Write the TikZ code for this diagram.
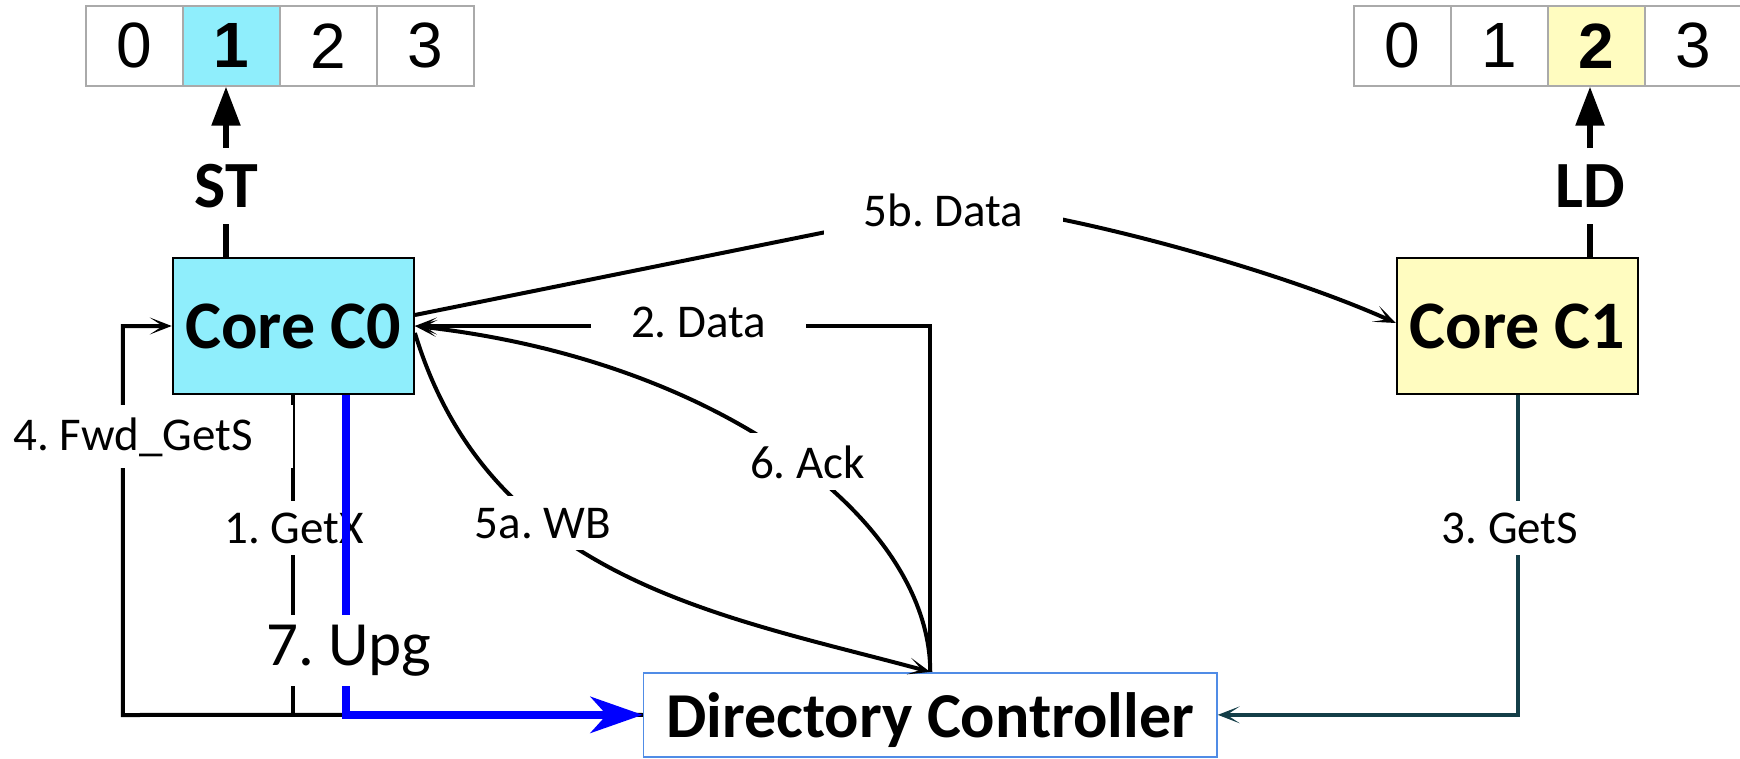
\documentclass[tikz,border=0pt]{standalone}
\usepackage{fontspec}
\setmainfont{Carlito}
\newfontfamily\arialf{Liberation Sans}
\usetikzlibrary{arrows.meta,calc}
\definecolor{cyanc}{RGB}{143,238,252}
\definecolor{yelc}{RGB}{255,252,192}
\definecolor{gridc}{RGB}{170,170,170}
\definecolor{dirblue}{RGB}{80,140,230}
\definecolor{tealc}{RGB}{20,62,72}
\definecolor{upgblue}{RGB}{0,0,255}
\frenchspacing
\begin{document}
\begin{tikzpicture}[x=0.5pt,y=-0.5pt,
  cell/.style={draw=gridc,line width=1pt,minimum width=48.5pt,minimum height=40pt,inner sep=0pt,font=\arialf\fontsize{32}{32}\selectfont},
  core/.style={draw=black,line width=1.1pt,minimum width=120.5pt,minimum height=68pt,inner sep=0pt,font=\bfseries\fontsize{34}{34}\selectfont},
  oplbl/.style={inner xsep=0pt,inner ysep=8pt,font=\bfseries\fontsize{33}{33}\selectfont},
  lbl/.style={fill=white,inner xsep=20pt,inner ysep=6pt,font=\fontsize{23.5}{23.5}\selectfont,anchor=base},
  conn/.style={line width=2pt,-{Stealth[length=11pt,width=8.5pt,inset=6.5pt]}},
  plain/.style={line width=2pt},
  opline/.style={line width=2.75pt},
  oparrow/.style={line width=2.75pt,-{Triangle[length=19.5pt,width=14pt]}},
  upg/.style={line width=4pt,draw=upgblue,-{Stealth[length=26pt,width=18pt,inset=8pt]}}
]
\useasboundingbox (0,0) rectangle (1740,759);

% arrays
\node[cell] (a0) at (134.4,45.7) {0};
\node[cell,fill=cyanc] (a1) at (231.5,45.7) {\bfseries 1};
\node[cell] (a2) at (328.6,45.7) {2};
\node[cell] (a3) at (425.7,45.7) {3};
\node[cell] (b0) at (1402.5,45.7) {0};
\node[cell] (b1) at (1499.5,45.7) {1};
\node[cell,fill=yelc] (b2) at (1596.5,45.7) {\bfseries 2};
\node[cell] (b3) at (1693.5,45.7) {3};

% main nodes
\node[core,fill=cyanc] (c0) at (293.3,326) {Core C0};
\node[core,fill=yelc] (c1) at (1517.5,326) {Core C1};
\node[draw=dirblue,line width=0.8pt,minimum width=286.75pt,minimum height=42.15pt,inner sep=0pt,text depth=0pt,font=\bfseries\fontsize{32}{32}\selectfont] (dir) at (930.25,714.85) {Directory Controller};

% ST / LD
\node[oplbl] (st) at (226,186) {ST};
\node[oplbl] (ld) at (1590,186) {LD};
\draw[opline] (st |- c0.north) -- (st);
\draw[oparrow] (st) -- (st |- a1.south);
\draw[opline] (ld |- c1.north) -- (ld);
\draw[oparrow] (ld) -- (ld |- b2.south);

% black connectors
\draw[conn] (dir.west) -- (122.8,715) -- (122.8,326) -- (c0.west);
\draw[plain] (c0.south) -- (c0.south |- dir.west) -- (dir.west);
\draw[conn] (dir.north) |- (c0.east);
\draw[conn] (dir.north) .. controls (930,520) and (720,360) .. (c0.east);
\draw[conn] ([yshift=-3.5pt]c0.east) .. controls (490,580) and (720,615) .. (dir.north);
\coordinate (k5b) at (960,205);
\draw[conn] ([yshift=5.5pt]c0.east) -- (k5b) .. controls (1030,205) and (1260,262) .. ([yshift=1.5pt]c1.west);
\draw[conn,draw=tealc] (c1.south) |- (dir.east);

% labels
\node[lbl] (l4) at (133,450) {4. Fwd\_GetS};
\node[lbl] (l1) at (294,543) {1. GetX};
\node[lbl] (l2) at (698.5,337) {2. Data};
\node[lbl] (l6) at (807.5,478) {6. Ack};
\node[lbl] (l5a) at (543,538) {5a. WB};
\node[lbl] (l5b) at (943.5,227) {5b. Data};
\node[lbl] (l3) at (1510,543) {3. GetS};

% blue upgrade
\draw[upg] ([xshift=26.35pt]c0.south) |- (dir.west);
\node[lbl,inner ysep=5pt,font=\fontsize{31.5}{31.5}\selectfont] (l7) at (349,665) {7. Upg};
\end{tikzpicture}
\end{document}
